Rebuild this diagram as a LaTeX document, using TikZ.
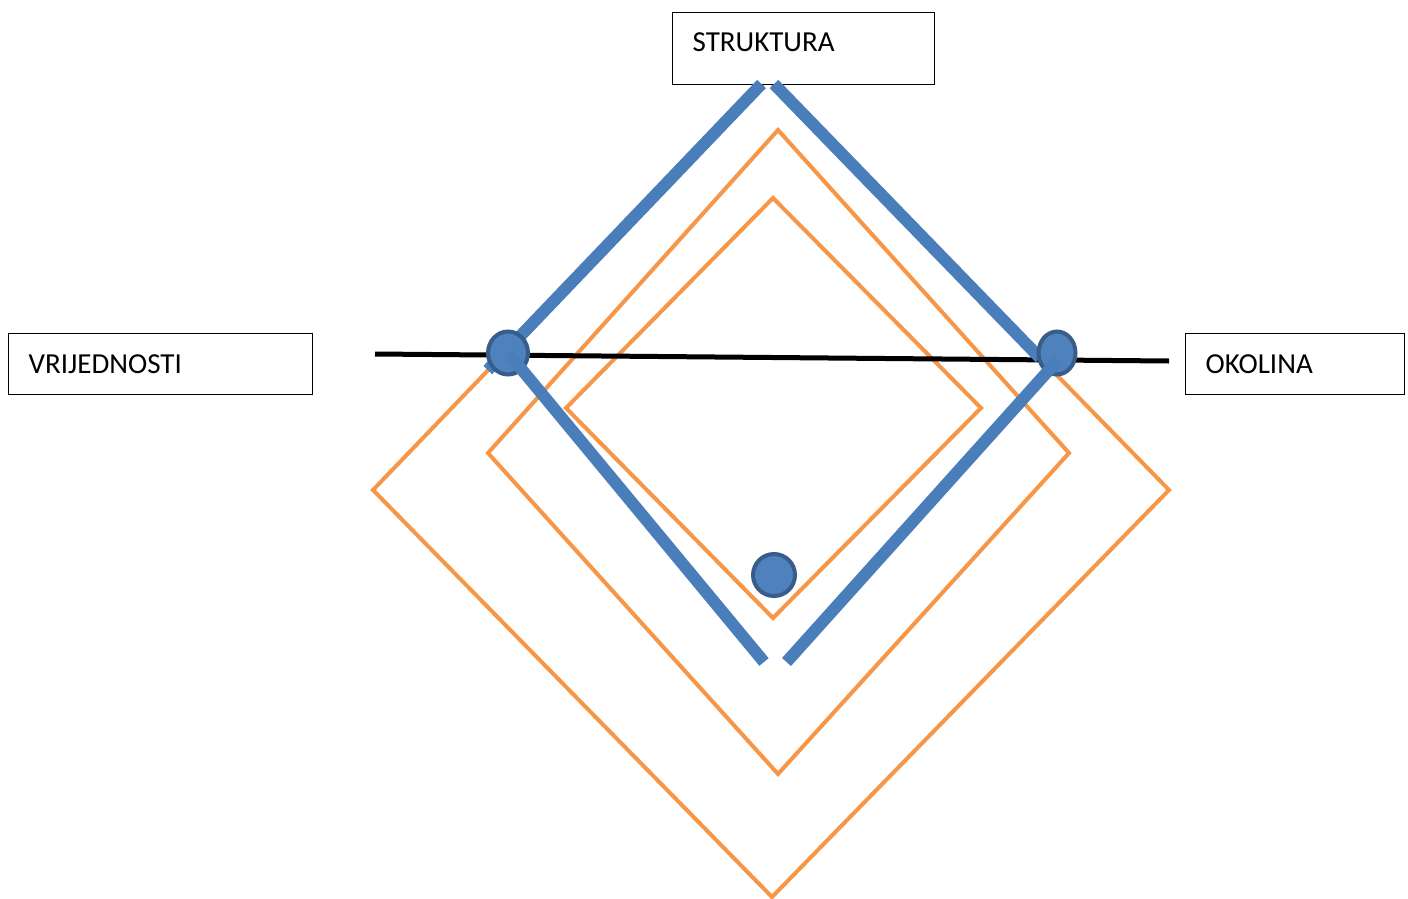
\documentclass[tikz,border=0pt]{standalone}
\usepackage{fontspec}
\setmainfont{Carlito}
\usetikzlibrary{shapes.geometric}
\definecolor{obrange}{HTML}{F79646}
\definecolor{bline}{HTML}{4A7EBB}
\definecolor{bfill}{HTML}{4F81BD}
\definecolor{bedge}{HTML}{385D8A}
\begin{document}
\begin{tikzpicture}[x=1pt,y=-1pt,
  labelbox/.style={draw=black,fill=white,line width=1.3pt,anchor=north west,inner xsep=20pt,inner ysep=0pt,align=left,font=\fontsize{29}{32}\selectfont},
  diam/.style={draw=obrange,line width=4pt,line join=miter},
  bluebar/.style={draw=bline,line width=12pt,line cap=butt},
  dot/.style={ellipse,fill=bfill,draw=bedge,line width=4pt,inner sep=0pt}]
\useasboundingbox (0,0) rectangle (1408,899);
\fill[white] (0,0) rectangle (1408,899);
% orange diamonds
\draw[diam] (767.7,79) -- (1169,490) -- (772,897) -- (373,490) -- cycle;
\draw[diam] (778,130) -- (1069,453) -- (778,774) -- (488,453) -- cycle;
\draw[diam] (773,198) -- (981,408) -- (773,618) -- (566,408) -- cycle;
% boxes
\node[labelbox,text width=222pt,minimum height=72pt] (s) at (672,12) {\raisebox{-3pt}[0pt][0pt]{STRUKTURA}};
\node[labelbox,text width=264pt,minimum height=61pt] (v) at (8,333) {\raisebox{1pt}{VRIJEDNOSTI}};
\node[labelbox,text width=179pt,minimum height=61pt] (o) at (1185,333) {\raisebox{1pt}{OKOLINA}};
% black line
\coordinate (hl) at (375,354);
\coordinate (hr) at (1169,361);
\draw[black,line width=5pt] (hl) -- (hr);
% coordinates
\coordinate (tl) at (761.5,84);
\coordinate (tlend) at (487.8,370);
\coordinate (tr) at (774,84);
\coordinate (trend) at (1040,358);
\coordinate (bl) at (764,662);
\coordinate (br) at (786.5,662);
\coordinate (pl) at (508,353);
\coordinate (pr) at (1057,353);
% upper blue bars
\draw[bluebar] (tl) -- (tlend);
\draw[bluebar] (tr) -- (trend);
% circles
\node[dot,minimum width=40pt,minimum height=43pt] (cl) at (pl) {};
\node[dot,minimum width=37pt,minimum height=43pt] (cr) at (pr) {};
\node[dot,minimum width=42pt,minimum height=42pt] (cb) at (774,575) {};
% lower blue bars
\coordinate (crlow) at (1058,360);
\draw[bluebar] (cl.center) -- (bl);
\draw[bluebar] (crlow) -- (br);
\end{tikzpicture}
\end{document}
